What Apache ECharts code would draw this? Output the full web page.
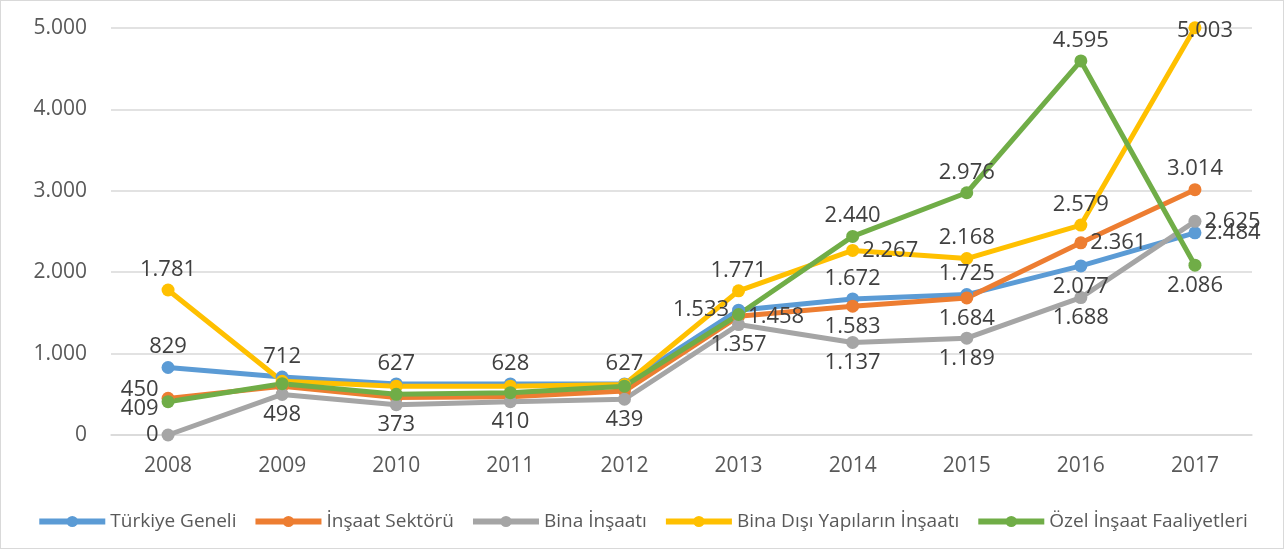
<!DOCTYPE html>
<html>
<head>
<meta charset="utf-8">
<script src="https://cdn.jsdelivr.net/npm/echarts@6/dist/echarts.min.js"></script>
<style>
  html, body { margin: 0; padding: 0; background: #fff; }
  #chart { width: 1282px; height: 547px; border: 1px solid #d9d9d9; }
</style>
</head>
<body>
<div id="chart"></div>
<script>
// yıllar
const years = ["2008", "2009", "2010", "2011", "2012", "2013", "2014", "2015", "2016", "2017"];

const turkiyeGeneli = [829, 712, 627, 628, 627, 1533, 1672, 1725, 2077, 2484];
const insaatSektoru = [450, 600, 460, 470, 540, 1458, 1583, 1684, 2361, 3014];
const binaInsaati = [0, 498, 373, 410, 439, 1357, 1137, 1189, 1688, 2625];
const binaDisi = [1781, 660, 600, 600, 620, 1771, 2267, 2168, 2579, 5003];
const ozelInsaat = [409, 630, 500, 520, 600, 1480, 2440, 2976, 4595, 2086];

const yTicks = [0, 1000, 2000, 3000, 4000, 5000];

// etiket konumları (null = gizli)
const posBlue = ["top", "top", "top", "top", "top", "left", "top", "top", "bottom", "right"];
const posOrange = ["left", null, null, null, null, "right", "bottom", "bottom", "right", "top"];
const posGray = ["left", "bottom", "bottom", "bottom", "bottom", "bottom", "bottom", "bottom", "bottom", "right"];
const posYellow = ["top", null, null, null, null, "top", "right", "top", "top", "inside"];
const posGreen = ["left", null, null, null, null, null, "top", "top", "top", "bottom"];

// üst üste binen etiketler için küçük kaydırmalar
const labelOffsets = {
  "İnşaat Sektörü": { 0: [0, -9] },
  "Özel İnşaat Faaliyetleri": { 0: [0, 7] },
  "Bina Dışı Yapıların İnşaatı": { 9: [10, 3] },
};

const fmt = (v) => String(v).replace(/\B(?=(\d{3})+(?!\d))/g, ".");

const makeData = (name, values, positions) =>
  values.map((v, i) => {
    const p = positions[i];
    if (!p) return { value: v, label: { show: false } };
    const label = { show: true, position: p };
    const off = (labelOffsets[name] || {})[i];
    if (off) label.offset = off;
    return { value: v, label };
  });

const makeSeries = (name, color, values, positions) => ({
  name,
  type: "line",
  data: makeData(name, values, positions),
  symbol: "circle",
  symbolSize: 13,
  clip: false,
  lineStyle: { width: 5, color },
  itemStyle: { color },
  label: {
    color: "#404040",
    fontSize: 22,
    fontFamily: "Open Sans",
    distance: 3,
    formatter: (p) => fmt(p.value),
  },
});

const chart = echarts.init(document.getElementById("chart"));
chart.setOption({
  animation: false,
  backgroundColor: "#fff",
  grid: { left: 110, right: 31, top: 27, bottom: 113, containLabel: false },
  xAxis: {
    type: "category",
    data: years,
    boundaryGap: true,
    axisLine: { lineStyle: { color: "#d9d9d9", width: 1.5 } },
    axisTick: { show: false },
    axisLabel: { color: "#595959", fontSize: 21, fontFamily: "Open Sans", margin: 21 },
  },
  yAxis: {
    type: "value",
    min: yTicks[0],
    max: yTicks[yTicks.length - 1],
    interval: 1000,
    axisLine: { show: false },
    axisTick: { show: false },
    splitLine: { lineStyle: { color: "#d9d9d9", width: 1.5 } },
    axisLabel: {
      color: "#595959",
      fontSize: 21,
      fontFamily: "Open Sans",
      margin: 24,
      formatter: (v) => fmt(v),
    },
  },
  legend: {
    bottom: 12,
    left: "center",
    width: 1270,
    itemWidth: 66,
    itemHeight: 14,
    itemGap: 16,
    lineStyle: { width: 6 },
    textStyle: { color: "#595959", fontSize: 19, fontFamily: "Open Sans" },
  },
  series: [
    makeSeries("Türkiye Geneli", "#5B9BD5", turkiyeGeneli, posBlue),
    makeSeries("İnşaat Sektörü", "#ED7D31", insaatSektoru, posOrange),
    makeSeries("Bina İnşaatı", "#A5A5A5", binaInsaati, posGray),
    makeSeries("Bina Dışı Yapıların İnşaatı", "#FFC000", binaDisi, posYellow),
    makeSeries("Özel İnşaat Faaliyetleri", "#70AD47", ozelInsaat, posGreen),
  ],
});
</script>
</body>
</html>
